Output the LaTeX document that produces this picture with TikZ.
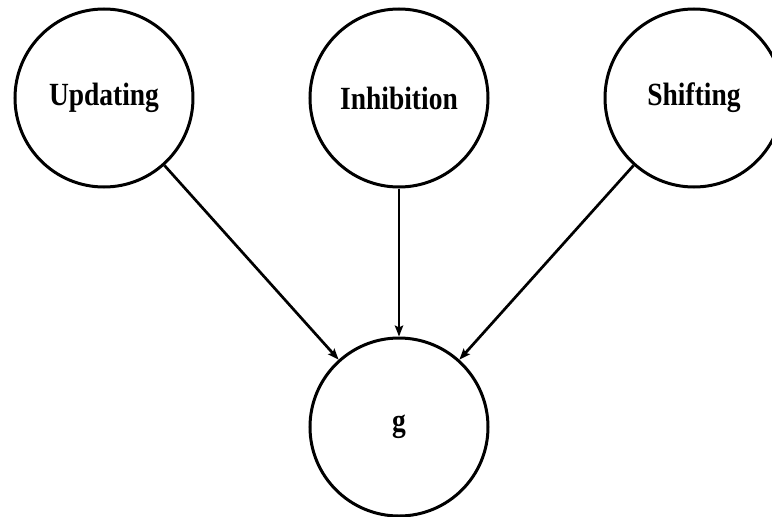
\documentclass[tikz,border=0pt]{standalone}
\usepackage{fontspec}
\setmainfont{Liberation Serif}[FakeStretch=0.85]
\usetikzlibrary{arrows.meta}

\begin{document}
\begin{tikzpicture}

\tikzset{
latent/.style = {circle, line width = 0.15cm, draw, minimum size = 8.9cm, inner sep = 0pt,
  font = \fontsize{46pt}{52pt}\selectfont\bfseries},
regression/.style = {-{Stealth[length = 0.55cm, width = 0.42cm, inset = 0.1cm]}, line width = 0.135cm},
	}

\useasboundingbox (-19.95, 4.9) rectangle (18.65, -20.9);

% Latent
\node at (-14.75, 0) [latent] (U) {Updating};
\node at (0, 0) [latent] (I) {Inhibition};
\node at (14.75, 0) [latent] (S) {Shifting};
\node at (0, -16.45) [latent] (g) {g};

% Regressions
\path [regression] (U) edge [] (g);
\path [regression] (I) edge [] (g);
\path [regression] (S) edge [] (g);

\end{tikzpicture}
\end{document}
